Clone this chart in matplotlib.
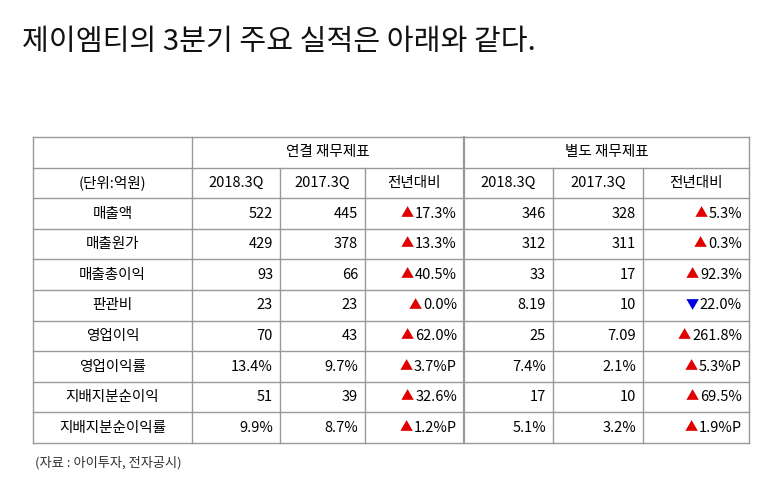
import matplotlib.pyplot as plt

# --- Data ---
title = "제이엠티의 3분기 주요 실적은 아래와 같다."
groups = ["연결 재무제표", "별도 재무제표"]
sub_headers = ["(단위:억원)", "2018.3Q", "2017.3Q", "전년대비", "2018.3Q", "2017.3Q", "전년대비"]
items = ["매출액", "매출원가", "매출총이익", "판관비", "영업이익", "영업이익률", "지배지분순이익", "지배지분순이익률"]
con_2018 = ["522", "429", "93", "23", "70", "13.4%", "51", "9.9%"]
con_2017 = ["445", "378", "66", "23", "43", "9.7%", "39", "8.7%"]
con_yoy = ["17.3%", "13.3%", "40.5%", "0.0%", "62.0%", "3.7%P", "32.6%", "1.2%P"]
con_up = [True] * 8
sep_2018 = ["346", "312", "33", "8.19", "25", "7.4%", "17", "5.1%"]
sep_2017 = ["328", "311", "17", "10", "7.09", "2.1%", "10", "3.2%"]
sep_yoy = ["5.3%", "0.3%", "92.3%", "22.0%", "261.8%", "5.3%P", "69.5%", "1.9%P"]
sep_up = [True, True, True, False, True, True, True, True]
source = "(자료 : 아이투자, 전자공시)"

plt.rcParams["font.family"] = ["Noto Sans CJK KR", "Noto Sans CJK JP", "Noto Sans CJK SC", "DejaVu Sans"]
fig = plt.figure(figsize=(7.73, 4.86), dpi=100)
ax = fig.add_axes([0, 0, 1, 1])
ax.set_xlim(0, 773)
ax.set_ylim(486, 0)
ax.axis("off")

ax.text(22, 42, title, fontsize=21, va="center", ha="left", color="#111111")

xs = [33, 192, 280, 365, 464, 553, 643, 749]
top, rh = 137, 30.6
nrows = 2 + len(items)
bottom = top + rh * nrows
lc = "#999999"
for i in range(nrows + 1):
    y = top + i * rh
    ax.plot([xs[0], xs[-1]], [y, y], color=lc, lw=1)
for j, x in enumerate(xs):
    y0 = top if j in (0, 1, 4, 7) else top + rh
    ax.plot([x, x], [y0, bottom], color=lc, lw=1.6 if j == 4 else 1)

fs = 10.5
ax.text((xs[1] + xs[4]) / 2, top + rh / 2, groups[0], fontsize=fs, ha="center", va="center")
ax.text((xs[4] + xs[7]) / 2, top + rh / 2, groups[1], fontsize=fs, ha="center", va="center")
for j, h in enumerate(sub_headers):
    ax.text((xs[j] + xs[j + 1]) / 2, top + rh * 1.5, h, fontsize=fs, ha="center", va="center")

fig.canvas.draw()
renderer = fig.canvas.get_renderer()
inv = ax.transData.inverted()

def yoy(x, y, val, up):
    t = ax.text(x, y, val, fontsize=fs, ha="right", va="center")
    bb = t.get_window_extent(renderer)
    left = inv.transform((bb.x0, 0))[0]
    ax.text(left - 1, y, "▲" if up else "▼", fontsize=fs - 1, ha="right", va="center",
            color="#e00000" if up else "#0000e0")

for i, name in enumerate(items):
    y = top + rh * (i + 2.5)
    ax.text((xs[0] + xs[1]) / 2, y, name, fontsize=fs, ha="center", va="center")
    ax.text(xs[2] - 7, y, con_2018[i], fontsize=fs, ha="right", va="center")
    ax.text(xs[3] - 7, y, con_2017[i], fontsize=fs, ha="right", va="center")
    yoy(xs[4] - 7, y, con_yoy[i], con_up[i])
    ax.text(xs[5] - 7, y, sep_2018[i], fontsize=fs, ha="right", va="center")
    ax.text(xs[6] - 7, y, sep_2017[i], fontsize=fs, ha="right", va="center")
    yoy(xs[7] - 7, y, sep_yoy[i], sep_up[i])

ax.text(35, 463, source, fontsize=9.5, ha="left", va="center", color="#333333")

fig.savefig("out.png", dpi=100)
